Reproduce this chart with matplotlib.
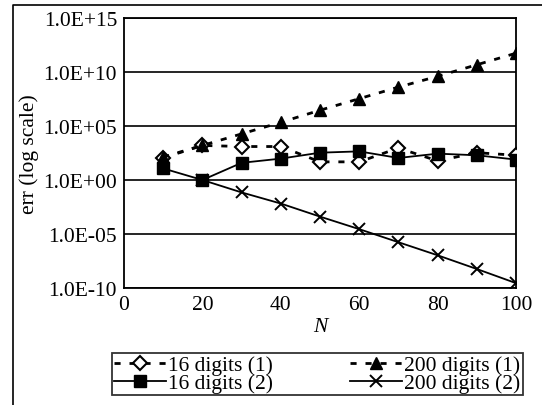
import numpy as np
import matplotlib.pyplot as plt
from matplotlib.lines import Line2D

plt.rcParams['font.family'] = ['Liberation Serif', 'DejaVu Serif']

N = [10, 20, 30, 40, 50, 60, 70, 80, 90, 100]
N_x = [20, 30, 40, 50, 60, 70, 80, 90, 100]
# log10 of err
d16_1 = [2.05, 3.2, 3.1, 3.1, 1.68, 1.68, 2.96, 1.77, 2.53, 2.29]
d200_1 = [2.13, 3.2, 4.27, 5.34, 6.46, 7.53, 8.6, 9.6, 10.67, 11.74]
d16_2 = [1.07, 0.0, 1.59, 1.98, 2.53, 2.65, 2.04, 2.44, 2.29, 1.89]
d200_2 = [0.0, -1.15, -2.18, -3.39, -4.55, -5.76, -6.97, -8.24, -9.55]
ytick_labels = ['1.0E-10', '1.0E-05', '1.0E+00', '1.0E+05', '1.0E+10', '1.0E+15']

W, H = 542, 406
fs = 15.5
fig = plt.figure(figsize=(W / 100, H / 100), dpi=100)
ax = fig.add_axes([124 / W, 1 - 289 / H, 392 / W, 270 / H])

dash = (0, (2.2, 3.2))
ax.plot(N, 10 ** np.array(d16_1), color='black', lw=2, ls=dash, marker='D',
        ms=7, mfc='white', mec='black', mew=1.5, label='16 digits (1)', zorder=3)
ax.plot(N, 10 ** np.array(d200_1), color='black', lw=2, ls=dash, marker='^',
        ms=9, mfc='black', mec='black', label='200 digits (1)', zorder=3)
ax.plot(N, 10 ** np.array(d16_2), color='black', lw=1.3, ls='-', marker='s',
        ms=8, mfc='black', mec='black', label='16 digits (2)', zorder=3)
ax.plot(N_x, 10 ** np.array(d200_2), color='black', lw=1.3, ls='-', marker='x',
        ms=9, mew=1.4, label='200 digits (2)', zorder=3)

ax.set_yscale('log')
ax.set_xlim(0, 100)
ax.set_ylim(1e-10, 1e15)
ax.set_xticks([0, 20, 40, 60, 80, 100])
ax.set_yticks([1e-10, 1e-5, 1e0, 1e5, 1e10, 1e15])
ax.set_yticklabels(ytick_labels)
ax.minorticks_off()
ax.tick_params(axis='y', length=0, labelsize=fs, pad=5)
ax.tick_params(axis='x', length=0, labelsize=fs, pad=5)
ax.yaxis.grid(True, color='black', lw=1.2)
ax.set_axisbelow(True)
for s in ax.spines.values():
    s.set_linewidth(1.3)
ax.set_xlabel('N', style='italic', fontsize=fs, labelpad=2)
ax.set_ylabel('err (log scale)', fontsize=fs, labelpad=3)

h, l = ax.get_legend_handles_labels()
order = [0, 2, 1, 3]
leg = fig.legend([h[i] for i in order], [l[i] for i in order], ncol=2,
                 loc='upper left', bbox_to_anchor=(112 / W, 1 - 354 / H),
                 fontsize=fs, frameon=True, fancybox=False, edgecolor='black',
                 borderpad=0.1, labelspacing=-0.1, handlelength=2.4,
                 handletextpad=0.1, columnspacing=3.6, borderaxespad=0)
leg.get_frame().set_linewidth(1.3)

# outer frame (only left and top edges fall inside the picture)
fig.add_artist(Line2D([13 / W, 13 / W, 1.0], [0.0, 1 - 6 / H, 1 - 6 / H],
                      transform=fig.transFigure, color='black', lw=1.2))

fig.savefig('out.png', dpi=100)
